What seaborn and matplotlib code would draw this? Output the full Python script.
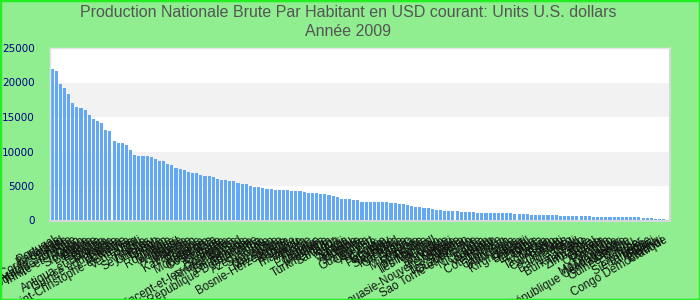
import matplotlib
matplotlib.use("Agg")
import matplotlib.pyplot as plt
import seaborn as sns
import pandas as pd
from matplotlib.patches import Rectangle

titre = "Production Nationale Brute Par Habitant en USD courant: Units U.S. dollars\nAnnée 2009"

pays = [
    "Portugal", "Bahamas", "Corée du Sud", "Malte", "Arabie Saoudite",
    "République Tchèque", "Trinité-et-Tobago", "Oman", "Slovaquie", "Barbade",
    "Estonie", "Hongrie", "Croatie", "Antigua-et-Barbuda", "Pologne",
    "Guinée équatoriale", "Lettonie", "Lituanie", "Saint-Christophe-et-Niévès", "Libye",
    "Venezuela", "Chili", "Russie", "Seychelles", "Uruguay",
    "Gabon", "Turquie", "Liban", "Roumanie", "Mexique",
    "Brésil", "Argentine", "Maurice", "Malaisie", "Kazakhstan",
    "Palaos", "Panama", "Monténégro", "Botswana", "Costa Rica",
    "Bulgarie", "Grenade", "Serbie", "Dominique", "Saint-Vincent-et-les-Grenadines",
    "Afrique du Sud", "Belarus", "Sainte-Lucie", "Colombie", "République Dominicaine",
    "Cuba", "Azerbaïdjan", "Suriname", "Iran", "Jamaïque",
    "Macédoine", "Bosnie-Herzégovine", "Algérie", "Namibie", "Pérou",
    "Thaïlande", "Angola", "Albanie", "Équateur", "Tunisie",
    "Maldives", "Chine", "Turkménistan", "Salvador", "Tonga",
    "Fidji", "Samoa", "Vanuatu", "Ukraine", "Jordanie",
    "Belize", "Guatemala", "Cap-Vert", "Arménie", "Égypte",
    "Géorgie", "Paraguay", "Syrie", "Swaziland", "Indonésie",
    "Sri Lanka", "Maroc", "Guyana", "Micronésie", "Mongolie",
    "Bolivie", "Philippines", "Îles Marshall", "Congo", "Bhoutan",
    "Honduras", "Kiribati", "Papouasie-Nouvelle-Guinée", "Moldavie", "Nigéria",
    "Îles Salomon", "Ouzbékistan", "Sao Tomé-et-Principe", "Inde", "Nicaragua",
    "Soudan", "Viet Nam", "Yémen", "Côte d'Ivoire", "Pakistan",
    "Cameroun", "Mauritanie", "Laos", "Kirghizistan", "Djibouti",
    "Sénégal", "Lesotho", "Zambie", "Ghana", "Kenya",
    "Tadjikistan", "Bénin", "Cambodge", "Haïti", "Comores",
    "Bangladesh", "Mali", "Tchad", "Burkina Faso", "Tanzanie",
    "Zimbabwe", "Népal", "Guinée", "Ouganda", "Rwanda",
    "Togo", "Mozambique", "Madagascar", "République Centrafricaine", "Gambie",
    "Guinée-Bissau", "Érythrée", "Niger", "Éthiopie", "Sierra Leone",
    "Malawi", "Libéria", "Burundi", "Congo Démocratique",
]

valeurs = [
    21920, 21630, 19740, 19160, 18290, 16980, 16390, 16250, 15960, 15230,
    14650, 14360, 14070, 13050, 12900, 11450, 11300, 11300, 11010, 10280,
    9560, 9410, 9410, 9410, 9260, 8970, 8680, 8680, 8250, 8100,
    7660, 7520, 7370, 7080, 6940, 6940, 6650, 6380, 6380, 6260,
    5970, 5820, 5820, 5680, 5680, 5380, 5240, 5240, 4950, 4800,
    4800, 4660, 4510, 4510, 4370, 4370, 4370, 4370, 4220, 4220,
    4220, 4070, 3930, 3930, 3930, 3780, 3780, 3640, 3490, 3350,
    3060, 3060, 3060, 2910, 2910, 2620, 2620, 2620, 2620, 2620,
    2620, 2620, 2470, 2470, 2330, 2330, 2180, 2040, 1890, 1890,
    1750, 1750, 1600, 1460, 1460, 1310, 1310, 1310, 1310, 1160,
    1160, 1160, 1160, 1020, 1020, 1020, 1020, 1020, 1020, 1020,
    1020, 1020, 870, 870, 870, 870, 730, 730, 730, 730,
    730, 730, 730, 580, 580, 580, 580, 580, 580, 580,
    580, 440, 440, 440, 440, 440, 440, 440, 440, 440,
    440, 440, 440, 290, 290, 290, 150, 150, 150,
]

yticks = [0, 5000, 10000, 15000, 20000, 25000]

df = pd.DataFrame({"pays": pays, "valeur": valeurs})

sns.set_style("white")
plt.rcParams["font.family"] = ["Liberation Sans", "DejaVu Sans"]

fig = plt.figure(figsize=(7, 3), dpi=100, facecolor="#90ee90")
ax = fig.add_axes([50 / 700, 1 - 220.5 / 300, 619.5 / 700, 172.5 / 300])
ax.set_facecolor("white")

# alternating bands
for lo, hi in [(5000, 10000), (15000, 20000)]:
    ax.axhspan(lo, hi, color="#f2f2f2", zorder=0, lw=0)

sns.barplot(data=df, x="pays", y="valeur", color="#62a8f4", saturation=1,
            width=0.75, ax=ax, zorder=2, order=pays, linewidth=0,
            edgecolor="none")

ax.set_xlim(-0.5, len(pays) - 0.5 + 0.9)
ax.set_ylim(0, 25000)
ax.set_yticks(yticks)
ax.set_yticklabels([str(v) for v in yticks], color="#000080", fontsize=7.5,
                   family="DejaVu Sans")
ax.set_xlabel("")
ax.set_ylabel("")
ax.tick_params(axis="both", length=0)
ax.tick_params(axis="y", pad=11)
ax.tick_params(axis="x", pad=10)
for lab in ax.get_xticklabels():
    lab.set_rotation(30)
    lab.set_ha("right")
    lab.set_va("top")
    lab.set_rotation_mode("anchor")
    lab.set_fontsize(8.3)
    lab.set_color("#111111")

for side in ["right", "bottom"]:
    ax.spines[side].set_visible(True)
    ax.spines[side].set_color("#d8d8dc")
    ax.spines[side].set_linewidth(1.5)
for side in ["left", "top"]:
    ax.spines[side].set_visible(True)
    ax.spines[side].set_color("#e4e4e4")
    ax.spines[side].set_linewidth(1)

fig.text(0.497, 1 - 5 / 300, titre, ha="center", va="top", fontsize=11.5,
         color="#555555", linespacing=1.35)

fig.patches.append(Rectangle((0, 0), 1, 1, transform=fig.transFigure,
                             fill=False, edgecolor="#22ee22", linewidth=2.5,
                             zorder=10))

fig.savefig("out.png", dpi=100, facecolor=fig.get_facecolor())
